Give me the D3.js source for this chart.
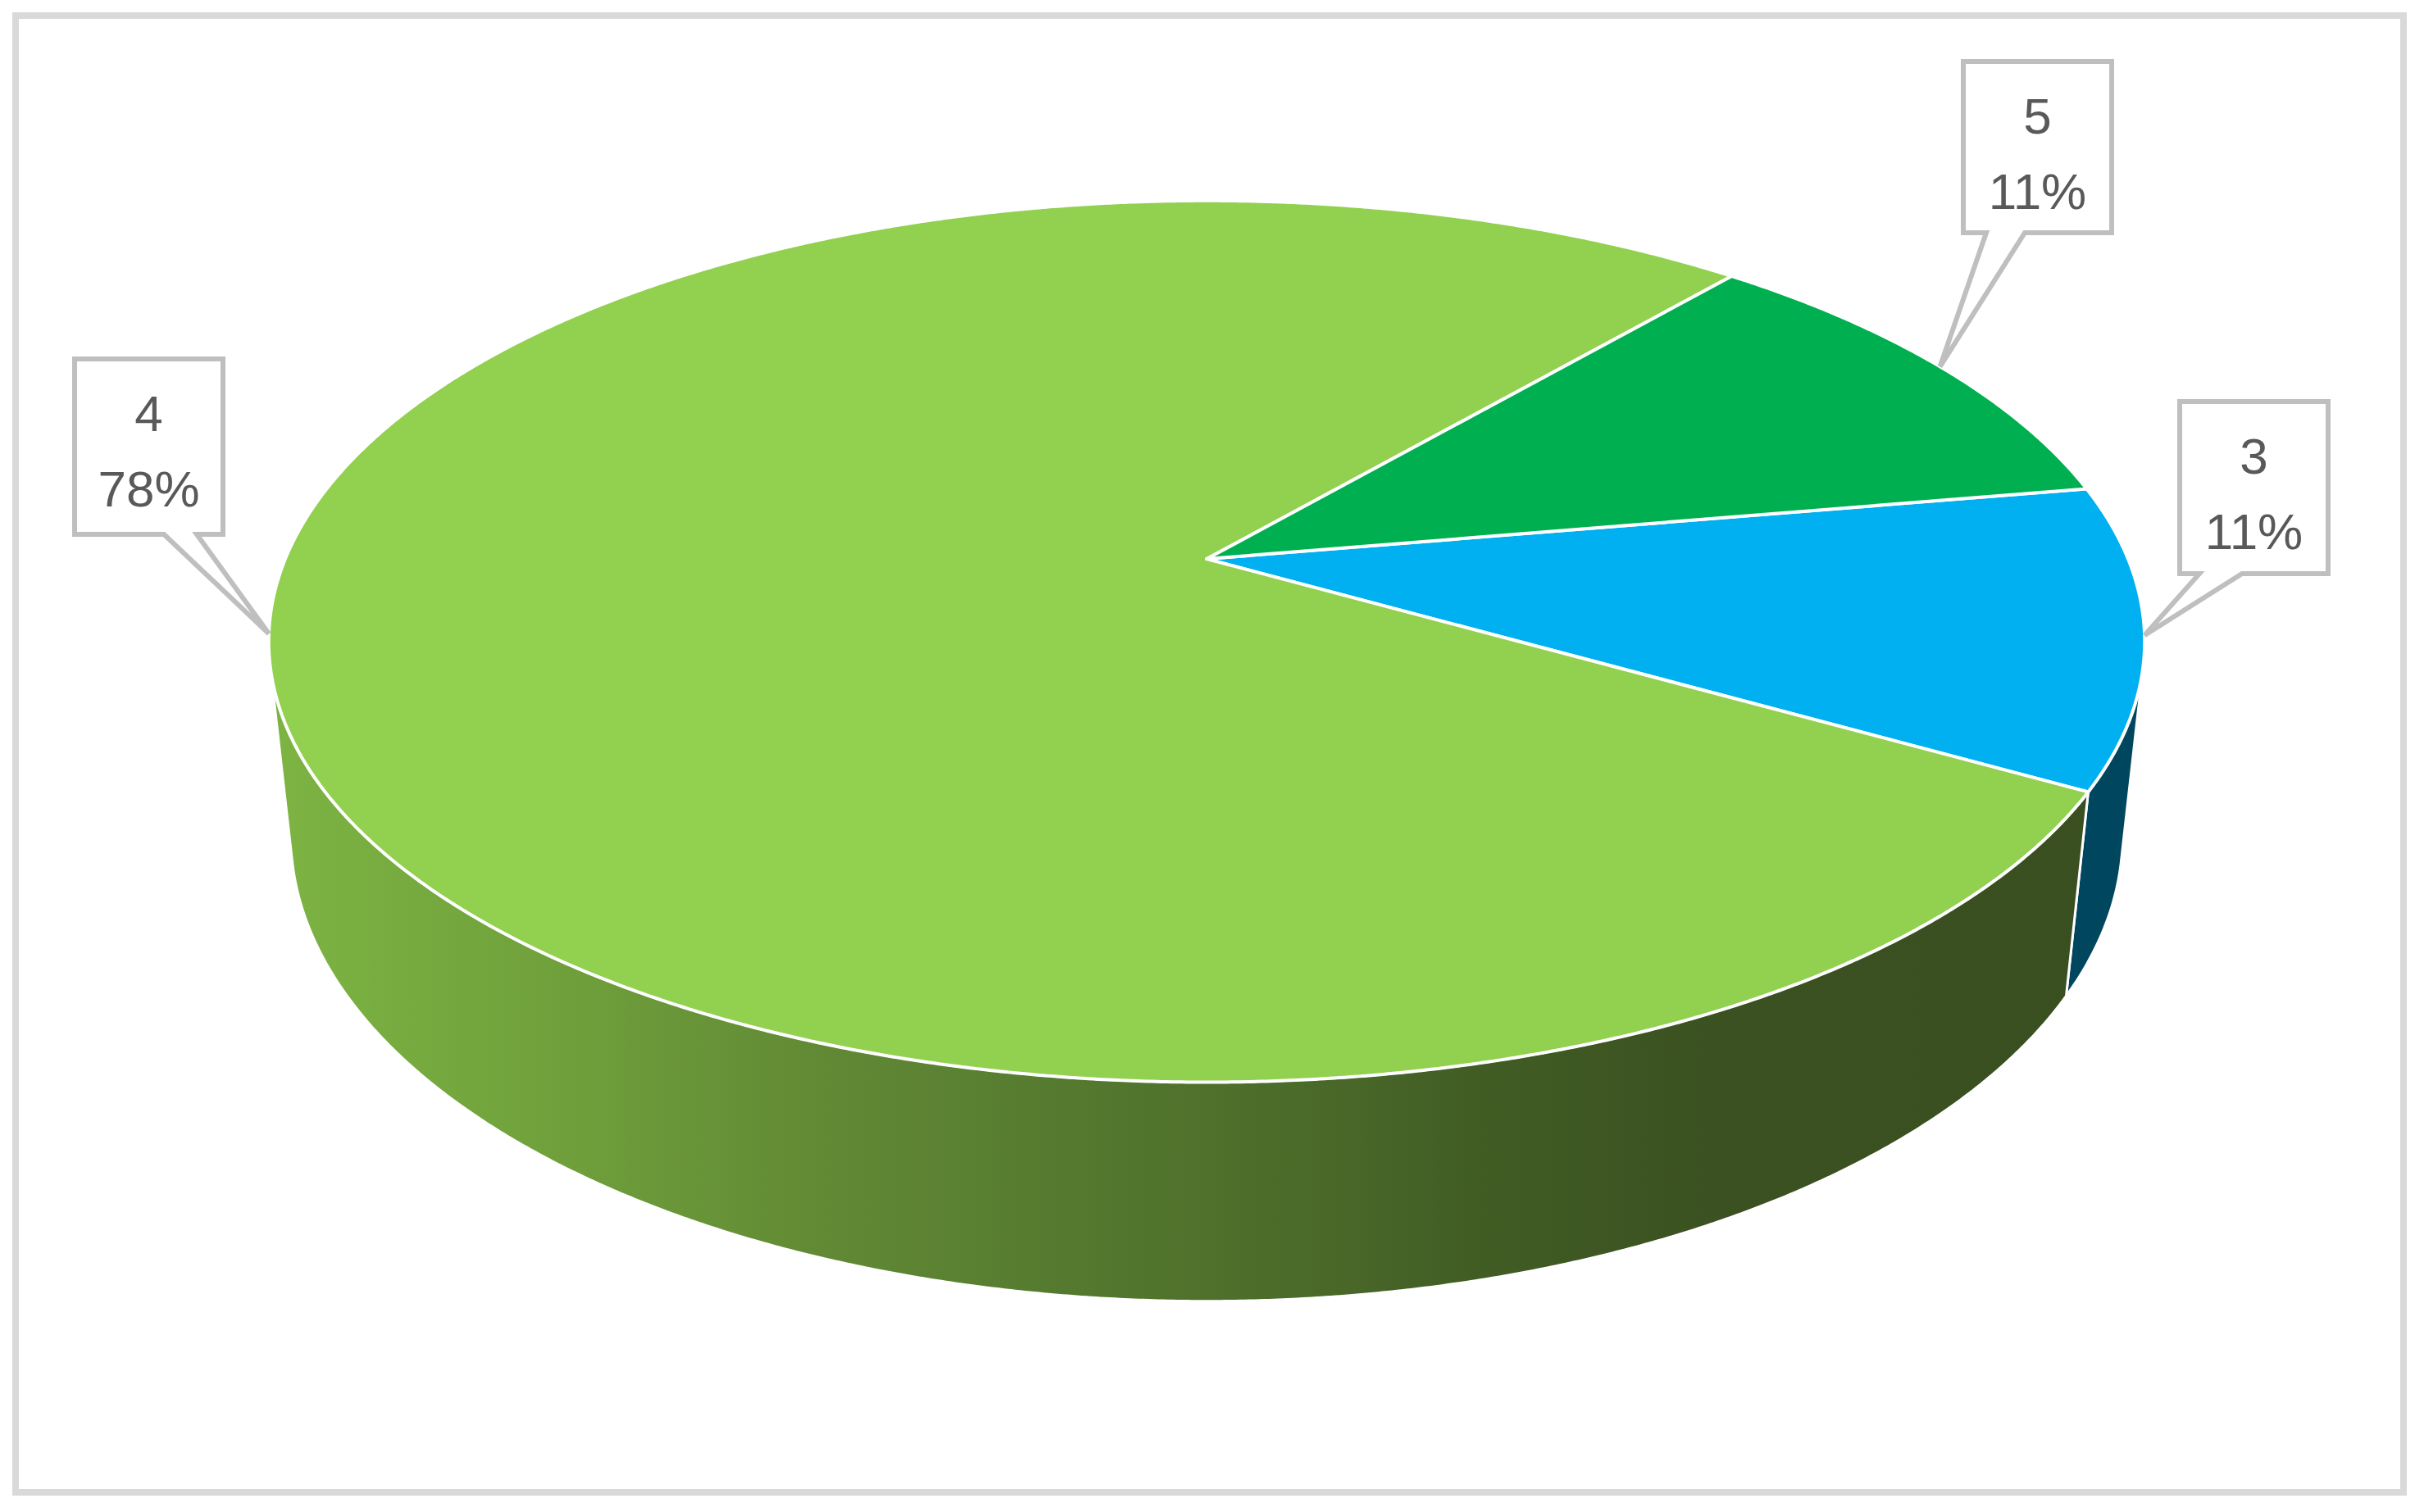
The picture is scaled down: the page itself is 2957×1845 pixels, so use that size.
<!DOCTYPE html>
<html>
<head>
<meta charset="utf-8">
<script src="https://cdn.jsdelivr.net/npm/d3@7.9.0/dist/d3.min.js"></script>
<style>
  html, body { margin: 0; padding: 0; background: #fff; }
  svg { display: block; }
  .callout text { font-family: 'Liberation Sans', Arial, sans-serif; font-size: 62px; fill: #595959; }
</style>
</head>
<body>
<div id="chart"></div>
<script>
// data, in drawing order (clockwise)
const categories = ['3', '4', '5'];
const shares = [11, 78, 11];
const topColors = ['#00b0f0', '#92d050', '#00b050'];
const sideColors = ['#00465f', 'url(#side-green)', '#005a28'];

// callout boxes (top-left corner, size, where the pointer leaves the bottom edge)
const calloutBoxes = {
    '3': { x: 2659, y: 490, w: 181, h: 210, base: [2683, 2735] },
    '4': { x: 91, y: 438, w: 181, h: 214, base: [200, 240] },
    '5': { x: 2395, y: 75, w: 181, h: 209, base: [2423, 2470] },
};

const width = 2957;
const height = 1845;
const center = { x: 1472, y: 682 };
const tilt = 27.5 * Math.PI / 180;   // camera elevation
const focal = 1124;                  // projected radius at the pie center depth
const radiusOverDist = 0.211;        // perspective strength
const thickness = 0.239;             // pie height / radius
const firstAngle = 80.2;             // degrees clockwise from 12 o'clock

const toRad = (deg) => deg * Math.PI / 180;

// project a rim point; phi is clockwise from 12 o'clock, t = 0 top, 1 bottom
function project(phi, t) {
    const theta = Math.PI / 2 - phi;
    const c = Math.cos(theta);
    const s = Math.sin(theta);
    const depth = 1 + radiusOverDist * (s * Math.cos(tilt) + t * thickness * Math.sin(tilt));
    const up = s * Math.sin(tilt) - t * thickness * Math.cos(tilt);
    return [center.x + focal * c / depth, center.y - focal * up / depth];
}

function rimPoints(a0, a1, t) {
    const n = Math.max(2, Math.ceil(Math.abs(a1 - a0) / toRad(0.25)));
    return d3.range(n + 1).map((i) => project(a0 + (a1 - a0) * i / n, t));
}

const line = d3.line();

const svg = d3
    .select('#chart')
    .append('svg')
    .attr('width', width)
    .attr('height', height)
    .attr('viewBox', `0 0 ${width} ${height}`);

svg.append('rect')
    .attr('x', 19)
    .attr('y', 19)
    .attr('width', 2913)
    .attr('height', 1802)
    .attr('fill', '#fff')
    .attr('stroke', '#d9d9d9')
    .attr('stroke-width', 8);

// shading of the green wall, light on the left to dark on the right
const grad = svg.append('defs')
    .append('linearGradient')
    .attr('id', 'side-green')
    .attr('gradientUnits', 'userSpaceOnUse')
    .attr('x1', 330).attr('x2', 2620)
    .attr('y1', 0).attr('y2', 0);

[
    [0, '#7db443'], [0.16, '#6f9f3b'], [0.29, '#628a35'], [0.42, '#557a2f'],
    [0.555, '#4a6a29'], [0.64, '#415d24'], [0.77, '#3b5121'], [1, '#3a4f20'],
].forEach(([o, c]) => grad.append('stop').attr('offset', o).attr('stop-color', c));

const pie = d3.pie()
    .sort(null)
    .value((d) => d)
    .startAngle(toRad(firstAngle))
    .endAngle(toRad(firstAngle) + 2 * Math.PI);

const slices = pie(shares).map((d, i) => ({ ...d, category: categories[i] }));

// the wall faces the camera where sin(theta) < -(R/D)/cos(tilt)
const edge = Math.asin(radiusOverDist / Math.cos(tilt));
const visible = [Math.PI / 2 + edge, 1.5 * Math.PI - edge];

const walls = svg.append('g').attr('class', 'walls');
slices.forEach((d, i) => {
    [0, 2 * Math.PI].forEach((shift) => {
        const a0 = Math.max(d.startAngle, visible[0] + shift);
        const a1 = Math.min(d.endAngle, visible[1] + shift);
        if (a1 <= a0) return;
        const pts = rimPoints(a0, a1, 0).concat(rimPoints(a1, a0, 1));
        walls.append('path')
            .attr('d', line(pts) + 'Z')
            .attr('fill', sideColors[i])
            .attr('stroke', '#fff')
            .attr('stroke-width', 3)
            .attr('stroke-linejoin', 'round');
    });
});

svg.append('g')
    .attr('class', 'tops')
    .selectAll('path')
    .data(slices)
    .join('path')
    .attr('d', (d) => line([[center.x, center.y], ...rimPoints(d.startAngle, d.endAngle, 0)]) + 'Z')
    .attr('fill', (d, i) => topColors[i])
    .attr('stroke', '#fff')
    .attr('stroke-width', 4)
    .attr('stroke-linejoin', 'round');

const total = d3.sum(shares);
const pct = d3.format('.0%');

const callouts = svg.append('g')
    .selectAll('g')
    .data(slices)
    .join('g')
    .attr('class', 'callout');

callouts.append('path')
    .attr('d', (d) => {
        const b = calloutBoxes[d.category];
        const tip = project((d.startAngle + d.endAngle) / 2, 0);
        const bottom = b.y + b.h;
        return `M${b.x},${b.y}H${b.x + b.w}V${bottom}H${b.base[1]}L${tip[0]},${tip[1]}L${b.base[0]},${bottom}H${b.x}Z`;
    })
    .attr('fill', '#fff')
    .attr('stroke', '#bfbfbf')
    .attr('stroke-width', 6)
    .attr('stroke-linejoin', 'miter');

callouts.append('text')
    .attr('x', (d) => calloutBoxes[d.category].x + calloutBoxes[d.category].w / 2)
    .attr('y', (d) => calloutBoxes[d.category].y + 88)
    .attr('text-anchor', 'middle')
    .text((d) => d.category);

callouts.append('text')
    .attr('x', (d) => calloutBoxes[d.category].x + calloutBoxes[d.category].w / 2)
    .attr('y', (d) => calloutBoxes[d.category].y + 180)
    .attr('text-anchor', 'middle')
    .text((d) => pct(d.value / total));
</script>
</body>
</html>
